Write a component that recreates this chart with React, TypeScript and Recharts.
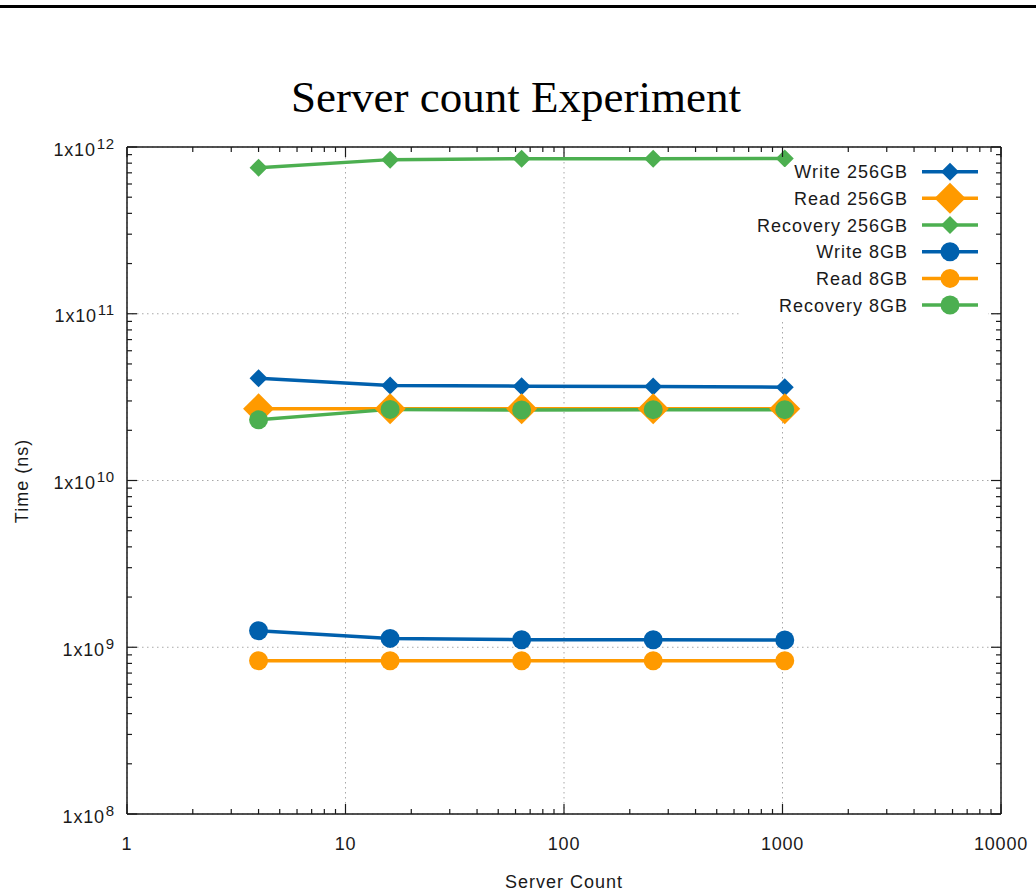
import React from "react";
import { LineChart, Line, XAxis, YAxis, CartesianGrid, Legend } from "recharts";

// values (log-log)
const serverCounts = [4, 16, 64, 256, 1024];
const write256 = [4.1e10, 3.71e10, 3.68e10, 3.66e10, 3.63e10];
const read256 = [2.69e10, 2.69e10, 2.69e10, 2.69e10, 2.69e10];
const recovery256 = [7.52e11, 8.4e11, 8.51e11, 8.51e11, 8.52e11];
const write8 = [1.256e9, 1.13e9, 1.11e9, 1.108e9, 1.105e9];
const read8 = [8.3e8, 8.3e8, 8.3e8, 8.3e8, 8.3e8];
const recovery8 = [2.31e10, 2.67e10, 2.65e10, 2.66e10, 2.66e10];

const xMajor = [1, 10, 100, 1000, 10000];
const yMajor = [1e8, 1e9, 1e10, 1e11, 1e12];
const minorSteps = [2, 3, 4, 5, 6, 7, 8, 9];
const xTicks = xMajor.concat(xMajor.slice(0, -1).flatMap((d) => minorSteps.map((m) => m * d)));
const yTicks = yMajor.concat(yMajor.slice(0, -1).flatMap((d) => minorSteps.map((m) => m * d)));

const BLUE = "#0060ad";
const ORANGE = "#ff9a00";
const GREEN = "#4caf50";
const AXIS = "#1a1a1a";
const TEXT = "#1a1a1a";
const SANS = "'Liberation Sans', Arial, sans-serif";
const MAJOR_LEN = 10;
const MINOR_LEN = 5;
const LINE_W = 3.5;

const series = [
  { key: "write256", name: "Write 256GB", color: BLUE, shape: "diamond", size: 9, values: write256 },
  { key: "read256", name: "Read 256GB", color: ORANGE, shape: "diamond", size: 15.5, values: read256 },
  { key: "recovery256", name: "Recovery 256GB", color: GREEN, shape: "diamond", size: 9, values: recovery256 },
  { key: "write8", name: "Write 8GB", color: BLUE, shape: "circle", size: 9.5, values: write8 },
  { key: "read8", name: "Read 8GB", color: ORANGE, shape: "circle", size: 9.5, values: read8 },
  { key: "recovery8", name: "Recovery 8GB", color: GREEN, shape: "circle", size: 9.5, values: recovery8 },
];

const rows = serverCounts.map((n, i) => {
  const row: Record<string, number> = { n };
  series.forEach((s) => {
    row[s.key] = s.values[i];
  });
  return row;
});

const isDecade = (v: number) => Math.abs(Math.log10(v) - Math.round(Math.log10(v))) < 1e-9;
const tickLen = (v: number) => (isDecade(v) ? MAJOR_LEN : MINOR_LEN);

function marker(shape: string, size: number, color: string, cx: number, cy: number, key?: string) {
  if (shape === "diamond") {
    return (
      <polygon
        key={key}
        points={`${cx},${cy - size} ${cx + size},${cy} ${cx},${cy + size} ${cx - size},${cy}`}
        fill={color}
      />
    );
  }
  return <circle key={key} cx={cx} cy={cy} r={size} fill={color} />;
}

const makeDot = (shape: string, size: number, color: string) => (props: any) => {
  const { cx, cy, key, index } = props;
  const k = key ?? `dot-${index}`;
  if (cx == null || cy == null) return <g key={k} />;
  return marker(shape, size, color, cx, cy, k);
};

// tick renderers: x/y arrive on the axis line (tickSize 0, tickMargin 0), ticks point inward
const BottomTick = (props: any) => {
  const { x, y, payload } = props;
  const v = payload.value;
  return (
    <g>
      <line x1={x} x2={x} y1={y} y2={y - tickLen(v)} stroke={AXIS} strokeWidth={1.2} />
      {isDecade(v) && (
        <text x={x} y={y + 36} textAnchor="middle" fontFamily={SANS} fontSize={18} letterSpacing={0.8} fill={TEXT}>
          {v}
        </text>
      )}
    </g>
  );
};

const TopTick = (props: any) => {
  const { x, y, payload } = props;
  return <line x1={x} x2={x} y1={y} y2={y + tickLen(payload.value)} stroke={AXIS} strokeWidth={1.2} />;
};

const LeftTick = (props: any) => {
  const { x, y, payload } = props;
  const v = payload.value;
  const exp = Math.round(Math.log10(v));
  return (
    <g>
      <line x1={x} x2={x + tickLen(v)} y1={y} y2={y} stroke={AXIS} strokeWidth={1.2} />
      {isDecade(v) && (
        <text x={x - 12} y={y + 8.5} textAnchor="end" fontFamily={SANS} fontSize={18} letterSpacing={0.8} fill={TEXT}>
          1x10
          <tspan dx={1} dy={-7} fontSize={15}>
            {exp}
          </tspan>
        </text>
      )}
    </g>
  );
};

const RightTick = (props: any) => {
  const { x, y, payload } = props;
  return <line x1={x} x2={x - tickLen(payload.value)} y1={y} y2={y} stroke={AXIS} strokeWidth={1.2} />;
};

const LegendBox = () => (
  <div style={{ background: "#fff", width: 246, height: 153 }}>
    <svg width={246} height={153} style={{ overflow: "visible", display: "block" }}>
      {series.map((s, i) => {
        const cy = 4.7 + i * 26.67;
        return (
          <g key={s.key}>
            <text x={166} y={cy + 6.5} textAnchor="end" fontFamily={SANS} fontSize={18} letterSpacing={1} fill={TEXT}>
              {s.name}
            </text>
            <line x1={180} x2={236} y1={cy} y2={cy} stroke={s.color} strokeWidth={LINE_W} />
            {marker(s.shape, s.size, s.color, 208, cy)}
          </g>
        );
      })}
    </svg>
  </div>
);

const axisLine = { stroke: AXIS, strokeWidth: 1.5 };

export default function App() {
  return (
    <div style={{ position: "absolute", left: 0, top: 0, width: 1036, height: 895, background: "#fff" }}>
      <div style={{ position: "absolute", left: 0, top: 5, width: 1036, height: 3, background: "#000" }} />
      <LineChart width={1036} height={895} data={rows} margin={{ top: 146, right: 34, left: 27, bottom: 41 }}>
        <CartesianGrid
          xAxisId="x"
          yAxisId="y"
          horizontalValues={yMajor}
          verticalValues={xMajor}
          stroke="#a8a8a8"
          strokeDasharray="1.5 3.5"
        />
        <XAxis
          xAxisId="x"
          dataKey="n"
          type="number"
          scale="log"
          domain={[1, 10000]}
          ticks={xTicks}
          interval={0}
          allowDataOverflow
          height={40}
          tickLine={false}
          tickSize={0}
          tickMargin={0}
          axisLine={axisLine}
          tick={<BottomTick />}
        />
        <XAxis
          xAxisId="xTop"
          orientation="top"
          dataKey="n"
          type="number"
          scale="log"
          domain={[1, 10000]}
          ticks={xTicks}
          interval={0}
          allowDataOverflow
          height={1}
          tickLine={false}
          tickSize={0}
          tickMargin={0}
          axisLine={axisLine}
          tick={<TopTick />}
        />
        <YAxis
          yAxisId="y"
          type="number"
          scale="log"
          domain={[1e8, 1e12]}
          ticks={yTicks}
          interval={0}
          allowDataOverflow
          width={100}
          tickLine={false}
          tickSize={0}
          tickMargin={0}
          axisLine={axisLine}
          tick={<LeftTick />}
        />
        <YAxis
          yAxisId="yRight"
          orientation="right"
          type="number"
          scale="log"
          domain={[1e8, 1e12]}
          ticks={yTicks}
          interval={0}
          allowDataOverflow
          width={1}
          tickLine={false}
          tickSize={0}
          tickMargin={0}
          axisLine={axisLine}
          tick={<RightTick />}
        />
        <Legend
          layout="horizontal"
          align="center"
          verticalAlign="middle"
          content={<LegendBox />}
          wrapperStyle={{ left: 742, top: 167, width: 246, height: 153 }}
        />
        {series.map((s) => (
          <Line
            key={s.key}
            xAxisId="x"
            yAxisId="y"
            dataKey={s.key}
            name={s.name}
            stroke={s.color}
            strokeWidth={LINE_W}
            dot={makeDot(s.shape, s.size, s.color)}
            activeDot={false}
            isAnimationActive={false}
          />
        ))}
      </LineChart>
      <svg width={1036} height={895} style={{ position: "absolute", left: 0, top: 0, pointerEvents: "none" }}>
        <text x={516} y={112} textAnchor="middle" fontFamily="'Liberation Serif', 'Times New Roman', serif" fontSize={45} fill="#000">
          Server count Experiment
        </text>
        <text x={564} y={888} textAnchor="middle" fontFamily={SANS} fontSize={18} letterSpacing={1} fill={TEXT}>
          Server Count
        </text>
        <text
          x={28}
          y={481}
          textAnchor="middle"
          fontFamily={SANS}
          fontSize={18}
          letterSpacing={1}
          fill={TEXT}
          transform="rotate(-90 28 481)"
        >
          Time (ns)
        </text>
      </svg>
    </div>
  );
}
